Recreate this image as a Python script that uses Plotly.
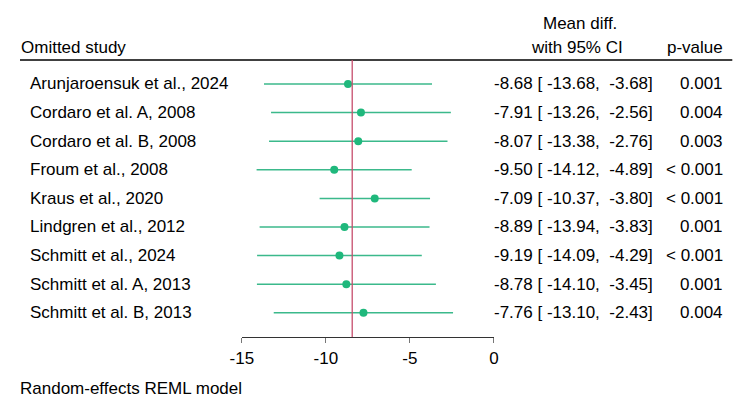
import plotly.graph_objects as go

# leave-one-out results
studies = [
    "Arunjaroensuk et al., 2024",
    "Cordaro et al. A, 2008",
    "Cordaro et al. B, 2008",
    "Froum et al., 2008",
    "Kraus et al., 2020",
    "Lindgren et al., 2012",
    "Schmitt et al., 2024",
    "Schmitt et al. A, 2013",
    "Schmitt et al. B, 2013",
]
mean_diff = [-8.68, -7.91, -8.07, -9.50, -7.09, -8.89, -9.19, -8.78, -7.76]
ci_low = [-13.68, -13.26, -13.38, -14.12, -10.37, -13.94, -14.09, -14.10, -13.10]
ci_high = [-3.68, -2.56, -2.76, -4.89, -3.80, -3.83, -4.29, -3.45, -2.43]
p_values = ["0.001", "0.004", "0.003", "< 0.001", "< 0.001", "0.001", "< 0.001", "0.001", "0.004"]
overall = -8.43
x_ticks = [-15, -10, -5, 0]

# the page body has an 8px margin, so the figure is shrunk by that and
# all positions below are given in window pixels
OFF = 8
W, H = 750 - OFF, 402 - OFF
FONT = '"Liberation Sans", Arial, Helvetica, sans-serif'
GREEN_LINE = "#3bb98b"
GREEN_DOT = "#1fb87c"
RED = "#c64d6c"


def px_x(p):
    return (p - OFF) / W


def px_y(p):
    return 1 - (p - OFF) / H


rows = list(range(1, len(studies) + 1))

fig = go.Figure()
fig.add_trace(
    go.Scatter(
        x=mean_diff,
        y=rows,
        mode="markers",
        marker=dict(color=GREEN_DOT, size=8),
        error_x=dict(
            type="data",
            symmetric=False,
            array=[h - m for h, m in zip(ci_high, mean_diff)],
            arrayminus=[m - l for m, l in zip(mean_diff, ci_low)],
            color=GREEN_LINE,
            thickness=1.5,
            width=0,
        ),
        hoverinfo="skip",
        showlegend=False,
    )
)

annotations = []
nb = "\u00a0"
for r, name, m, lo, hi, p in zip(rows, studies, mean_diff, ci_low, ci_high, p_values):
    annotations.append(dict(x=px_x(17), y=r, xref="paper", yref="y", text=name,
                            xanchor="left", yanchor="middle", showarrow=False))
    ci_text = f"{m:.2f} [{lo:7.2f},{hi:7.2f}]".replace(" ", nb)
    annotations.append(dict(x=px_x(657), y=r, xref="paper", yref="y", text=ci_text,
                            xanchor="right", yanchor="middle", showarrow=False))
    annotations.append(dict(x=px_x(728), y=r, xref="paper", yref="y", text=p.replace(" ", nb),
                            xanchor="right", yanchor="middle", showarrow=False))

# header and footer
annotations += [
    dict(x=px_x(8), y=px_y(47), text="Omitted study", xanchor="left"),
    dict(x=px_x(581), y=px_y(23), text="Mean diff.", xanchor="center"),
    dict(x=px_x(578), y=px_y(47), text="with 95% CI", xanchor="center"),
    dict(x=px_x(729), y=px_y(47), text="p-value", xanchor="right"),
    dict(x=px_x(7), y=px_y(388), text="Random-effects REML model", xanchor="left"),
]
for a in annotations:
    a.setdefault("xref", "paper")
    a.setdefault("yref", "paper")
    a.setdefault("yanchor", "middle")
    a.setdefault("showarrow", False)
    a["borderpad"] = 0

top_px, bottom_px = 60, 337
row_gap = 28.6
first_row_px = 84

fig.update_layout(
    width=W,
    height=H,
    margin=dict(l=0, r=0, t=0, b=0),
    paper_bgcolor="white",
    plot_bgcolor="white",
    font=dict(family=FONT, size=17, color="black"),
    annotations=annotations,
    shapes=[
        dict(type="line", xref="paper", yref="paper", x0=px_x(8), x1=px_x(737),
             y0=px_y(top_px), y1=px_y(top_px), line=dict(color="black", width=1.5)),
        dict(type="line", xref="x", yref="paper", x0=overall, x1=overall,
             y0=px_y(bottom_px), y1=px_y(top_px), line=dict(color=RED, width=1.3)),
    ],
    xaxis=dict(
        domain=[px_x(235), px_x(493)],
        range=[-15, 0],
        tickvals=x_ticks,
        ticktext=[str(t) for t in x_ticks],
        showgrid=False,
        zeroline=False,
        showline=True,
        linecolor="#333333",
        linewidth=1.2,
        ticks="outside",
        ticklen=5,
        tickcolor="#777777",
        tickwidth=1.2,
        tickfont=dict(size=17),
        fixedrange=True,
    ),
    yaxis=dict(
        domain=[px_y(bottom_px), px_y(top_px)],
        range=[
            len(studies) + (bottom_px - (first_row_px + (len(studies) - 1) * row_gap)) / row_gap,
            1 - (first_row_px - top_px) / row_gap,
        ],
        visible=False,
        fixedrange=True,
    ),
)

fig.write_html("out.html")
